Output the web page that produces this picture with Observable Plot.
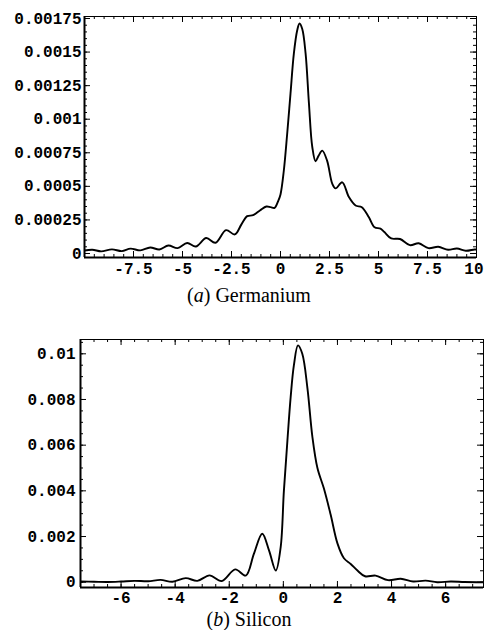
<!DOCTYPE html>
<html>
<head>
<meta charset="utf-8">
<script src="https://cdn.jsdelivr.net/npm/d3@7"></script>
<script src="https://cdn.jsdelivr.net/npm/@observablehq/plot@0.6"></script>
<style>
  html, body { margin: 0; padding: 0; background: #fff; }
  #wrap { position: relative; width: 484px; height: 630px; overflow: hidden; background: #fff; }
  .panel { position: absolute; left: 0; }
  .cap { position: absolute; left: 0; width: 498px; text-align: center;
         font-family: "Liberation Serif", "Times New Roman", "DejaVu Serif", serif; font-size: 20px;
         line-height: 15px; color: #000; }
</style>
</head>
<body>
<div id="wrap">
  <div id="pa" class="panel" style="top:0px"></div>
  <div class="cap" style="top:288px">(<i>a</i>) Germanium</div>
  <div id="pb" class="panel" style="top:320px"></div>
  <div class="cap" style="top:612px">(<i>b</i>) Silicon</div>
</div>
<script>
// ---------- Panel (a) Germanium ----------
const geX = [-10.0, -9.6, -9.15, -8.6, -8.1, -7.65, -7.15, -6.65, -6.18, -5.72, -5.25, -4.76, -4.32, -3.79, -3.32, -2.78, -2.33, -2.0, -1.7, -1.4, -1.05, -0.72, -0.5, -0.3, -0.12, 0.0, 0.17, 0.34, 0.51, 0.68, 0.85, 0.97, 1.11, 1.28, 1.45, 1.62, 1.79, 1.95, 2.13, 2.38, 2.64, 2.81, 3.15, 3.49, 3.83, 4.15, 4.51, 4.8, 5.1, 5.3, 5.65, 6.1, 6.6, 7.05, 7.55, 8.05, 8.55, 9.0, 9.45, 9.9, 10.0];
const geY = [0.000022, 0.000028, 0.000016, 0.000031, 0.000018, 0.000036, 0.000023, 0.000045, 0.000030, 0.000060, 0.000040, 0.000078, 0.000052, 0.000115, 0.000080, 0.000174, 0.000142, 0.000215, 0.000278, 0.000285, 0.000320, 0.000350, 0.000345, 0.000340, 0.000390, 0.000440, 0.000618, 0.000890, 0.001190, 0.001486, 0.001660, 0.001713, 0.001672, 0.001490, 0.001120, 0.000795, 0.000687, 0.000730, 0.000766, 0.000690, 0.000520, 0.000485, 0.000530, 0.000420, 0.000357, 0.000345, 0.000270, 0.000195, 0.000185, 0.000160, 0.000112, 0.000108, 0.000062, 0.000076, 0.000040, 0.000050, 0.000028, 0.000037, 0.000020, 0.000030, 0.000029];
const geXTicks = [-7.5, -5, -2.5, 0, 2.5, 5, 7.5, 10];
const geXLabels = ["-7.5", "-5", "-2.5", "0", "2.5", "5", "7.5", "10"];
const geYTicks = [0, 0.00025, 0.0005, 0.00075, 0.001, 0.00125, 0.0015, 0.00175];
const geYLabels = ["0", "0.00025", "0.0005", "0.00075", "0.001", "0.00125", "0.0015", "0.00175"];
const geXDomain = [-10, 10];
const geYDomain = [-0.0000298, 0.0017649];

// ---------- Panel (b) Silicon ----------
const siX = [-7.5, -7.0, -6.5, -6.0, -5.5, -5.0, -4.54, -4.10, -3.61, -3.18, -2.73, -2.28, -1.78, -1.39, -1.09, -0.78, -0.53, -0.28, -0.10, 0.02, 0.15, 0.27, 0.39, 0.54, 0.70, 0.89, 1.07, 1.26, 1.50, 1.75, 2.0, 2.24, 2.49, 2.74, 3.02, 3.41, 3.87, 4.34, 4.8, 5.26, 5.69, 6.19, 6.7, 7.4];
const siY = [0.00003, 0.00002, 0.00001, 0.00003, 0.00006, 0.00004, 0.0001, 0.00002, 0.00018, 0.00006, 0.0003, 0.00005, 0.00056, 0.00029, 0.00124, 0.00212, 0.00139, 0.00051, 0.00153, 0.0040, 0.0062, 0.0081, 0.0095, 0.01037, 0.0100, 0.0085, 0.0064, 0.0050, 0.0041, 0.00295, 0.0017, 0.00105, 0.0008, 0.00051, 0.00026, 0.00029, 0.00009, 0.00015, 0.00003, 0.00007, 0.0, 0.00003, 0.00001, 0.0];
const siXTicks = [-6, -4, -2, 0, 2, 4, 6];
const siXLabels = ["-6", "-4", "-2", "0", "2", "4", "6"];
const siYTicks = [0, 0.002, 0.004, 0.006, 0.008, 0.01];
const siYLabels = ["0", "0.002", "0.004", "0.006", "0.008", "0.01"];
const siXDomain = [-7.5, 7.4];
const siYDomain = [-0.000232, 0.010626];

function panel(o) {
  const W = 484;
  const pw = W - o.ml - o.mr;
  const ph = o.h - o.mt - o.mb;
  const data = o.xs.map((x, i) => ({x, y: o.ys[i]}));
  const MAJ = 6, MIN = 3;
  const lastX = o.xTicks[o.xTicks.length - 1];
  const edgeLast = o.xTicks.length && lastX === o.xDomain[1];
  const innerTicks = edgeLast ? o.xTicks.slice(0, -1) : o.xTicks;
  const fmtX = d => o.xLabels[o.xTicks.indexOf(d)];
  const marks = [
    Plot.line(data, {x: "x", y: "y", curve: "catmull-rom", stroke: "#000", strokeWidth: 1.9, clip: true}),
    Plot.frame({stroke: "#000", strokeWidth: 1}),
    Plot.ruleX([o.xDomain[0]], {stroke: "#000", strokeWidth: 2}),
    Plot.ruleY([o.yDomain[0]], {stroke: "#000", strokeWidth: 2}),
    Plot.tickX(o.xTicks, {x: d => d, insetTop: ph - MAJ, stroke: "#000", strokeWidth: 1}),
    Plot.tickX(o.xMinor, {x: d => d, insetTop: ph - MIN, stroke: "#000", strokeWidth: 1}),
    Plot.tickX(o.xTicks, {x: d => d, insetBottom: ph - MAJ, stroke: "#000", strokeWidth: 1}),
    Plot.tickX(o.xMinor, {x: d => d, insetBottom: ph - MIN, stroke: "#000", strokeWidth: 1}),
    Plot.tickY(o.yTicks, {y: d => d, insetRight: pw - MAJ, stroke: "#000", strokeWidth: 1}),
    Plot.tickY(o.yMinor, {y: d => d, insetRight: pw - MIN, stroke: "#000", strokeWidth: 1}),
    Plot.tickY(o.yTicks, {y: d => d, insetLeft: pw - MAJ, stroke: "#000", strokeWidth: 1}),
    Plot.tickY(o.yMinor, {y: d => d, insetLeft: pw - MIN, stroke: "#000", strokeWidth: 1}),
    Plot.axisX(innerTicks, {tickSize: 0, tickPadding: o.xPad, tickFormat: fmtX, label: null, fill: "#000"}),
    Plot.axisY(o.yTicks, {tickSize: 0, tickPadding: o.yPad, tickFormat: d => o.yLabels[o.yTicks.indexOf(d)], label: null, fill: "#000"})
  ];
  if (edgeLast) {
    marks.push(Plot.axisX([lastX], {tickSize: 0, tickPadding: o.xPad, tickFormat: fmtX, label: null, fill: "#000", textAnchor: "end", dx: 7}));
  }
  return Plot.plot({
    width: W, height: o.h,
    marginLeft: o.ml, marginRight: o.mr, marginTop: o.mt, marginBottom: o.mb,
    x: {domain: o.xDomain},
    y: {domain: o.yDomain},
    style: {fontFamily: "'Liberation Mono', 'Courier New', monospace", fontSize: "16px", fontWeight: "bold", color: "#000", background: "#fff"},
    marks
  });
}

document.getElementById("pa").append(panel({
  h: 282, ml: 84, mr: 8, mt: 16, mb: 25,
  xs: geX, ys: geY, xDomain: geXDomain, yDomain: geYDomain,
  xTicks: geXTicks, xLabels: geXLabels, xMinor: d3.range(-10, 10.001, 0.5),
  yTicks: geYTicks, yLabels: geYLabels, yMinor: d3.range(0, 0.00176, 0.00005),
  xPad: 5, yPad: 3
}));

document.getElementById("pb").append(panel({
  h: 292, ml: 80, mr: 1, mt: 19, mb: 25,
  xs: siX, ys: siY, xDomain: siXDomain, yDomain: siYDomain,
  xTicks: siXTicks, xLabels: siXLabels, xMinor: d3.range(-7.5, 7.401, 0.5),
  yTicks: siYTicks, yLabels: siYLabels, yMinor: d3.range(0, 0.0106, 0.0005),
  xPad: 4, yPad: 5
}));
</script>
</body>
</html>
